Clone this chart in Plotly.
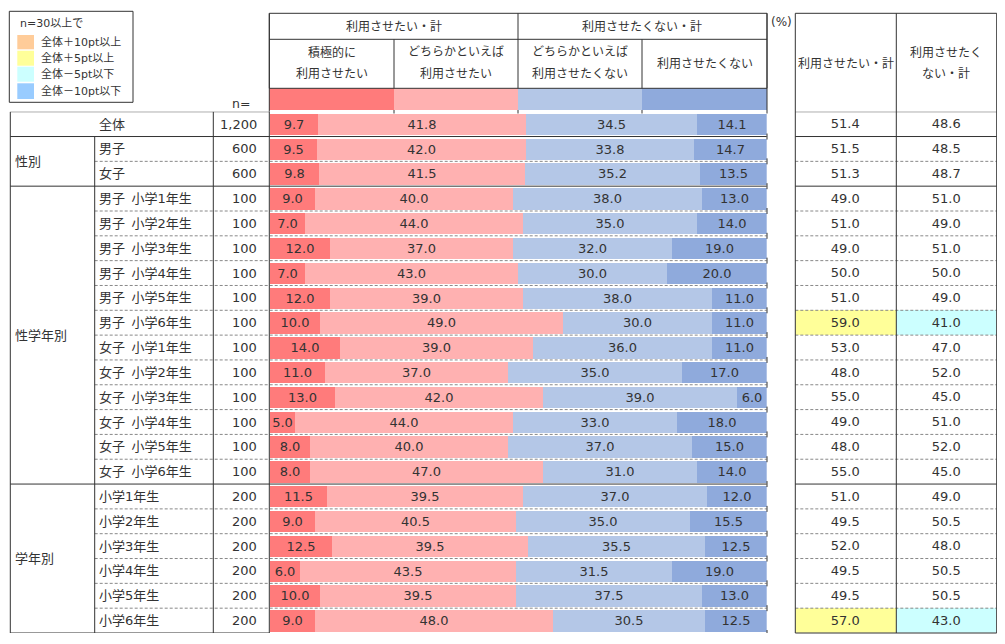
import plotly.graph_objects as go

# page body has an 8px margin: the figure is sized to the remaining area
OFF = 8
W, H = 1005 - OFF, 644 - OFF
FONT = "DejaVu Sans, 'Noto Sans CJK JP', sans-serif"
TXT = "#333333"

# ---------------- data ----------------
row_labels = ["全体", "男子", "女子",
              "男子\u2002小学1年生", "男子\u2002小学2年生", "男子\u2002小学3年生",
              "男子\u2002小学4年生", "男子\u2002小学5年生", "男子\u2002小学6年生",
              "女子\u2002小学1年生", "女子\u2002小学2年生", "女子\u2002小学3年生",
              "女子\u2002小学4年生", "女子\u2002小学5年生", "女子\u2002小学6年生",
              "小学1年生", "小学2年生", "小学3年生", "小学4年生", "小学5年生", "小学6年生"]
n_values = [1200, 600, 600] + [100] * 12 + [200] * 6
group_labels = ["性別", "性学年別", "学年別"]
group_rows = [(1, 2), (3, 14), (15, 20)]

series_names = ["積極的に利用させたい", "どちらかといえば利用させたい",
                "どちらかといえば利用させたくない", "利用させたくない"]
s_active_yes = [9.7, 9.5, 9.8, 9.0, 7.0, 12.0, 7.0, 12.0, 10.0, 14.0, 11.0, 13.0, 5.0, 8.0, 8.0,
                11.5, 9.0, 12.5, 6.0, 10.0, 9.0]
s_rather_yes = [41.8, 42.0, 41.5, 40.0, 44.0, 37.0, 43.0, 39.0, 49.0, 39.0, 37.0, 42.0, 44.0, 40.0, 47.0,
                39.5, 40.5, 39.5, 43.5, 39.5, 48.0]
s_rather_no = [34.5, 33.8, 35.2, 38.0, 35.0, 32.0, 30.0, 38.0, 30.0, 36.0, 35.0, 39.0, 33.0, 37.0, 31.0,
               37.0, 35.0, 35.5, 31.5, 37.5, 30.5]
s_no = [14.1, 14.7, 13.5, 13.0, 14.0, 19.0, 20.0, 11.0, 11.0, 11.0, 17.0, 6.0, 18.0, 15.0, 14.0,
        12.0, 15.5, 12.5, 19.0, 13.0, 12.5]
total_yes = [51.4, 51.5, 51.3, 49.0, 51.0, 49.0, 50.0, 51.0, 59.0, 53.0, 48.0, 55.0, 49.0, 48.0, 55.0,
             51.0, 49.5, 52.0, 49.5, 49.5, 57.0]
total_no = [48.6, 48.5, 48.7, 51.0, 49.0, 51.0, 50.0, 49.0, 41.0, 47.0, 52.0, 45.0, 51.0, 52.0, 45.0,
            49.0, 50.5, 48.0, 50.5, 50.5, 43.0]
total_headers = ["利用させたい・計", "利用させたくない・計"]
legend_labels = ["全体＋10pt以上", "全体＋5pt以上", "全体－5pt以下", "全体－10pt以下"]

series_colors = ["#FF7B7B", "#FFB1B1", "#B4C7E7", "#8FAADC"]
legend_colors = ["#FFCC99", "#FFFF99", "#CCFFFF", "#99CCFF"]

# ---------------- geometry helpers (window pixel -> paper) ----------------
def px(x):
    return (x - OFF) / W

def py(y):
    return 1 - (y - OFF) / H

NR = len(row_labels)
Y_TOP, Y_BOT = 111.7, 633.0
X_L, X_C1, X_C2, X_BAR = 10.3, 94.7, 213.3, 269.3
BAR_X0, BAR_X1 = 270.0, 766.7
RT_X0, RT_XM, RT_X1 = 795.3, 896.3, 996.7
HDR_T, HDR_M, HDR_B, SW_B = 13.3, 39.3, 88.3, 110.0

fig = go.Figure()

# stacked bars
for name, vals, col in zip(series_names,
                           [s_active_yes, s_rather_yes, s_rather_no, s_no],
                           series_colors):
    fig.add_trace(go.Bar(
        x=vals, y=list(range(NR)), orientation="h", name=name,
        marker=dict(color=col, line=dict(width=0)), width=0.86,
        text=[f"{v:.1f}" for v in vals], textposition="inside",
        insidetextanchor="middle", textangle=0,
        textfont=dict(family=FONT, size=13, color=TXT),
        hoverinfo="skip", showlegend=False,
    ))

# right-hand totals table (highlight by difference from overall)
def code(v, base):
    d = v - base
    if d >= 10:
        return 1
    if d >= 5:
        return 2
    if d <= -10:
        return 4
    if d <= -5:
        return 3
    return 0

z = [[code(a, total_yes[0]), code(b, total_no[0])] for a, b in zip(total_yes, total_no)]
txt = [[f"{a:.1f}", f"{b:.1f}"] for a, b in zip(total_yes, total_no)]
cs = [[0, "#FFFFFF"], [0.2, "#FFFFFF"], [0.2, legend_colors[0]], [0.4, legend_colors[0]],
      [0.4, legend_colors[1]], [0.6, legend_colors[1]], [0.6, legend_colors[2]], [0.8, legend_colors[2]],
      [0.8, legend_colors[3]], [1, legend_colors[3]]]
fig.add_trace(go.Heatmap(
    x=[0, 1], y=list(range(NR)), z=z, zmin=-0.5, zmax=4.5, colorscale=cs, showscale=False,
    text=txt, texttemplate="%{text}", textfont=dict(family=FONT, size=13, color=TXT),
    hoverinfo="skip", xaxis="x2", yaxis="y",
))

shapes = []
ann = []
LINE = "#333333"

def hline(x0, x1, y, yref="y", dash=None, color=LINE):
    ln = dict(color=color, width=1)
    if dash:
        ln["dash"] = dash
    shapes.append(dict(type="line", xref="paper", yref="y" if yref == "y" else "paper",
                       x0=px(x0), x1=px(x1),
                       y0=y if yref == "y" else py(y), y1=y if yref == "y" else py(y),
                       line=ln))

def vline(x, y0, y1, yref="y"):
    shapes.append(dict(type="line", xref="paper", yref="y" if yref == "y" else "paper",
                       x0=px(x), x1=px(x),
                       y0=y0 if yref == "y" else py(y0), y1=y1 if yref == "y" else py(y1),
                       line=dict(color=LINE, width=1)))

solid_b = [0.5, 2.5, 14.5]
for i in range(NR - 1):
    b = i + 0.5
    if b in solid_b:
        hline(X_L, BAR_X1, b)
        hline(RT_X0, RT_X1, b)
    else:
        hline(X_C1, BAR_X1, b, dash="3px,2px", color="#888888")
        hline(RT_X0, RT_X1, b, dash="3px,2px", color="#888888")
    vline(767, b - 0.12, b + 0.12)
vline(767, NR - 0.5 - 0.12, NR - 0.5)

# left table frame
hline(X_L, X_BAR, -0.5)
hline(X_L, X_BAR, NR - 0.5)
vline(X_L, -0.5, NR - 0.5)
vline(X_C1, 0.5, NR - 0.5)
vline(X_C2, -0.5, NR - 0.5)
vline(X_BAR, -0.5, NR - 0.5)

# right table frame
shapes.append(dict(type="rect", xref="paper", yref="paper", x0=px(RT_X0), x1=px(RT_X1),
                   y0=py(Y_BOT), y1=py(HDR_T), line=dict(color=LINE, width=1)))
vline(RT_XM, HDR_T, Y_BOT, yref="paper")
hline(RT_X0, RT_X1, -0.5)

# bar header
q = [X_BAR, 394.0, 518.0, 642.0, 767.0]
for k in range(4):
    shapes.append(dict(type="rect", xref="paper", yref="paper", x0=px(q[k]), x1=px(q[k + 1]),
                       y0=py(SW_B), y1=py(HDR_B), line=dict(width=0),
                       fillcolor=series_colors[k], layer="below"))
shapes.append(dict(type="rect", xref="paper", yref="paper", x0=px(X_BAR), x1=px(767),
                   y0=py(HDR_B), y1=py(HDR_T), line=dict(color=LINE, width=1)))
hline(X_BAR, 767, HDR_M, yref="paper")
vline(518, HDR_T, HDR_B, yref="paper")
vline(394, HDR_M, HDR_B, yref="paper")
vline(642, HDR_M, HDR_B, yref="paper")
vline(X_BAR, HDR_T, Y_TOP, yref="paper")
vline(767, HDR_T, SW_B, yref="paper")
for xx in [394, 518, 642, 767]:
    vline(xx, SW_B, 113.5, yref="paper")

def text(x, y, s, size=12, xanchor="center", yref="paper"):
    ann.append(dict(x=px(x), y=y if yref == "y" else py(y), xref="paper",
                    yref="y" if yref == "y" else "paper", text=s, showarrow=False,
                    xanchor=xanchor, yanchor="middle",
                    font=dict(family=FONT, size=size, color=TXT)))

text(393.6, 26.3, "利用させたい・計")
text(642, 26.3, "利用させたくない・計")
text(331.6, 52.5, "積極的に")
text(331.6, 74, "利用させたい")
text(456, 52.5, "どちらかといえば")
text(456, 74, "利用させたい")
text(580, 52.5, "どちらかといえば")
text(580, 74, "利用させたくない")
text(704.5, 63.5, "利用させたくない")
text(781.5, 22, "(%)")
text(846, 63.5, total_headers[0])
text(946, 53, "利用させたく")
text(946, 74, "ない・計")
text(241, 103, "n=", size=12.5)

# left table texts
text((X_L + X_C2) / 2, 0, row_labels[0], size=13, yref="y")
for i in range(1, NR):
    text(97, i, row_labels[i], size=13, xanchor="left", yref="y")
for i in range(NR):
    text(258.7, i, f"{n_values[i]:,}", size=13, xanchor="right", yref="y")
for g, (a, b) in zip(group_labels, group_rows):
    text(13.3, (a + b) / 2, g, size=13, xanchor="left", yref="y")

# legend box
shapes.append(dict(type="rect", xref="paper", yref="paper", x0=px(9.3), x1=px(133),
                   y0=py(102.3), y1=py(11.3), line=dict(color=LINE, width=1)))
text(18, 23, "n=30以上で", size=11, xanchor="left")
sw_y = [(35, 49.3), (50.7, 65.7), (66.7, 81.7), (83.3, 99)]
for (y0, y1), c, lab in zip(sw_y, legend_colors, legend_labels):
    shapes.append(dict(type="rect", xref="paper", yref="paper", x0=px(17.3), x1=px(34),
                       y0=py(y1), y1=py(y0), line=dict(width=0), fillcolor=c))
    text(39, (y0 + y1) / 2, lab, size=11, xanchor="left")

fig.update_layout(
    width=W, height=H, margin=dict(l=0, r=0, t=0, b=0),
    paper_bgcolor="white", plot_bgcolor="rgba(0,0,0,0)",
    barmode="stack", bargap=0,
    uniformtext=dict(minsize=13, mode="show"),
    xaxis=dict(domain=[px(BAR_X0), px(BAR_X1)], range=[0, 100], visible=False, fixedrange=True),
    xaxis2=dict(domain=[px(RT_X0), px(RT_X1)], range=[-0.5, 1.5], visible=False, anchor="y"),
    yaxis=dict(domain=[py(Y_BOT), py(Y_TOP)], range=[NR - 0.5, -0.5], visible=False),
    shapes=shapes, annotations=ann, showlegend=False,
)

fig.write_html("out.html")
